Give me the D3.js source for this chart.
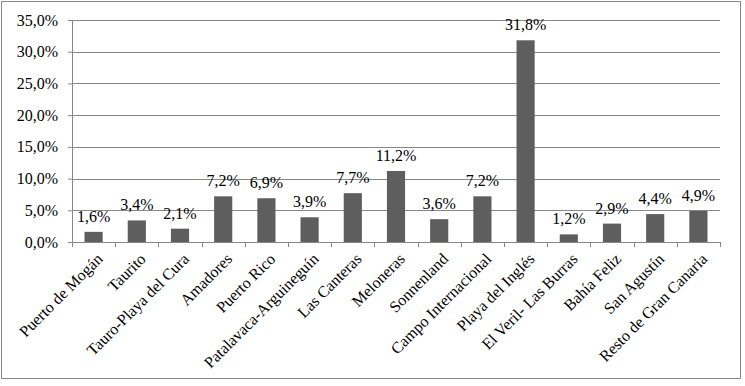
<!DOCTYPE html>
<html>
<head>
<meta charset="utf-8">
<script src="https://cdn.jsdelivr.net/npm/d3@7"></script>
<style>
  body { margin: 0; background: #fff; }
  svg text { font-family: "Liberation Serif", "Times New Roman", "DejaVu Serif", serif !important; fill: #000; }
</style>
</head>
<body>
<div class="chart"></div>
<script>
const categories = ['Puerto de Mogán', 'Taurito', 'Tauro-Playa del Cura', 'Amadores', 'Puerto Rico',
  'Patalavaca-Arguineguín', 'Las Canteras', 'Meloneras', 'Sonnenland', 'Campo Internacional',
  'Playa del Inglés', 'El Veril- Las Burras', 'Bahía Feliz', 'San Agustín', 'Resto de Gran Canaria'];
const values = [1.6, 3.4, 2.1, 7.2, 6.9, 3.9, 7.7, 11.2, 3.6, 7.2, 31.8, 1.2, 2.9, 4.4, 4.9];
const yTicks = [0, 5, 10, 15, 20, 25, 30, 35];

const W = 745;
const H = 386;
const serif = '"Liberation Serif", "Times New Roman", serif';
const margin = { top: 20, right: 25, bottom: 144, left: 72 };
const width = 720 - margin.left;
const height = 242 - margin.top;

const locale = d3.formatLocale({ decimal: ',', thousands: '.', grouping: [3], currency: ['', '€'] });
const fmt = (v) => `${locale.format('.1f')(v)}%`;

const svg = d3.select('.chart')
  .append('svg')
  .attr('width', W)
  .attr('height', H)
  .attr('font-family', serif);

// outer frame
svg.append('rect')
  .attr('x', 1.5).attr('y', 1.5)
  .attr('width', 739).attr('height', 377)
  .attr('fill', 'none')
  .attr('stroke', '#888')
  .attr('stroke-width', 1);

const g = svg.append('g')
  .attr('transform', `translate(${margin.left},${margin.top})`);

const x = d3.scaleBand()
  .domain(categories)
  .range([0, width])
  .paddingInner(0.58)
  .paddingOuter(0.29);

const y = d3.scaleLinear()
  .domain([0, 35])
  .range([height, 0]);

// gridlines
g.selectAll('.grid')
  .data(yTicks.filter((d) => d > 0))
  .enter()
  .append('line')
  .attr('x1', 0)
  .attr('x2', width)
  .attr('y1', (d) => Math.round(y(d)) + 0.5)
  .attr('y2', (d) => Math.round(y(d)) + 0.5)
  .attr('stroke', '#888')
  .attr('stroke-width', 1);

// y axis
const yAxis = g.append('g')
  .call(d3.axisLeft(y).tickValues(yTicks).tickFormat(fmt).tickSize(4).tickPadding(10))
  .attr('font-family', serif)
  .attr('font-size', 16);
yAxis.selectAll('path, line').attr('stroke', '#888');
yAxis.selectAll('text').attr('fill', '#000');

// bars
g.selectAll('.bar')
  .data(values)
  .enter()
  .append('rect')
  .attr('x', (d, i) => x(categories[i]))
  .attr('y', (d) => y(d))
  .attr('width', x.bandwidth())
  .attr('height', (d) => height - y(d))
  .attr('fill', '#5e5e5e');

// value labels
g.selectAll('.val')
  .data(values)
  .enter()
  .append('text')
  .attr('x', (d, i) => x(categories[i]) + x.bandwidth() / 2)
  .attr('y', (d) => y(d) - 10)
  .attr('text-anchor', 'middle')
  .attr('font-family', serif)
  .attr('font-size', 16)
  .text((d) => fmt(d));

// x axis line + ticks at band boundaries
const step = x.step();
const x0 = x(categories[0]) - x.paddingOuter() * step;
g.append('line')
  .attr('x1', 0).attr('x2', width)
  .attr('y1', height + 0.5).attr('y2', height + 0.5)
  .attr('stroke', '#888');
g.selectAll('.xtick')
  .data(d3.range(categories.length + 1))
  .enter()
  .append('line')
  .attr('x1', (i) => Math.round(x0 + i * step) + 0.5)
  .attr('x2', (i) => Math.round(x0 + i * step) + 0.5)
  .attr('y1', height)
  .attr('y2', height + 5)
  .attr('stroke', '#888');

// category labels
g.selectAll('.cat')
  .data(categories)
  .enter()
  .append('text')
  .attr('transform', (d) => `translate(${x(d) + x.bandwidth() / 2 + 6},${height + 14}) rotate(-45)`)
  .attr('text-anchor', 'end')
  .attr('dy', '0.35em')
  .attr('font-family', serif)
  .attr('font-size', 16)
  .text((d) => d);
</script>
</body>
</html>
